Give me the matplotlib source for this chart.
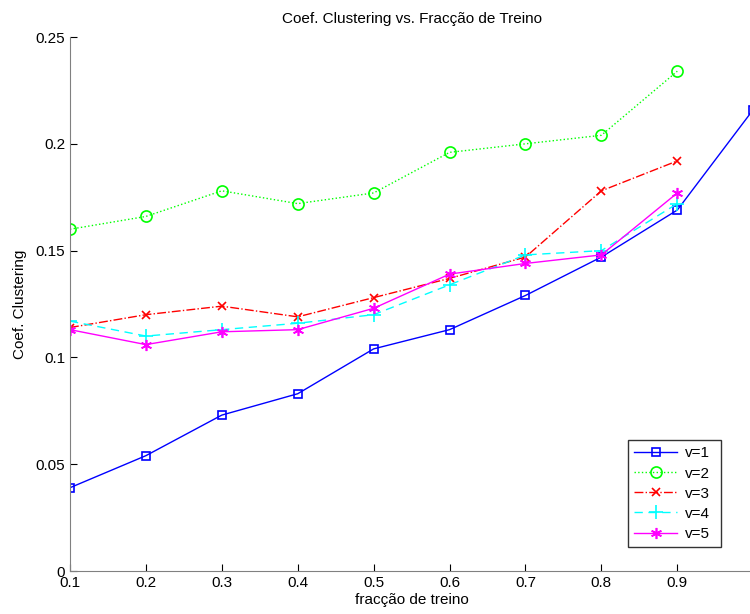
import matplotlib
matplotlib.use("Agg")
import matplotlib.pyplot as plt

plt.rcParams['font.family'] = ['Liberation Sans', 'DejaVu Sans']

# fracção de treino
x = [0.1, 0.2, 0.3, 0.4, 0.5, 0.6, 0.7, 0.8, 0.9, 1.0]
v1 = [0.039, 0.054, 0.073, 0.083, 0.104, 0.113, 0.129, 0.147, 0.169, 0.216]
v2 = [0.160, 0.166, 0.178, 0.172, 0.177, 0.196, 0.200, 0.204, 0.234]
v3 = [0.114, 0.120, 0.124, 0.119, 0.128, 0.137, 0.147, 0.178, 0.192]
v4 = [0.117, 0.110, 0.113, 0.116, 0.120, 0.134, 0.148, 0.150, 0.172]
v5 = [0.113, 0.106, 0.112, 0.113, 0.123, 0.139, 0.144, 0.148, 0.177]

fig = plt.figure(figsize=(7.5, 6.14), dpi=100)
ax = fig.add_axes([0.0933, 0.070, 0.911, 0.8697])

ax.plot(x, v1, color='#0000ff', linestyle='-', marker='s', mfc='none', ms=6, mew=1.2, lw=1, label='v=1')
ax.plot(x[:9], v2, color='#00ff00', linestyle=':', marker='o', mfc='none', ms=8, mew=1.2, lw=1, label='v=2')
ax.plot(x[:9], v3, color='#ff0000', linestyle='-.', marker='x', ms=6, mew=1.2, lw=1, label='v=3')
ax.plot(x[:9], v4, color='#00ffff', linestyle='--', marker='+', ms=10, mew=1.2, lw=1, dashes=(6, 4), label='v=4')
ax.plot(x[:9], v5, color='#ff00ff', linestyle='-', marker=(6, 2, 0), ms=8, mew=1.2, lw=1, label='v=5')

ax.set_xlim(0.1, 1.0)
ax.set_ylim(0, 0.25)
ax.set_xticks([0.1, 0.2, 0.3, 0.4, 0.5, 0.6, 0.7, 0.8, 0.9, 1.0])
ax.set_xticklabels(['0.1', '0.2', '0.3', '0.4', '0.5', '0.6', '0.7', '0.8', '0.9', '1'])
ax.set_yticks([0, 0.05, 0.1, 0.15, 0.2, 0.25])
ax.set_yticklabels(['0', '0.05', '0.1', '0.15', '0.2', '0.25'])
ax.tick_params(direction='in', length=5, labelsize=11, color='black')
ax.spines['top'].set_visible(False)
ax.spines['right'].set_visible(False)
ax.spines['left'].set_color('#808080')
ax.spines['bottom'].set_color('#808080')

ax.set_title('Coef. Clustering vs. Fracção de Treino', fontsize=11, pad=10)
ax.set_xlabel('fracção de treino', fontsize=11, labelpad=2)
ax.set_ylabel('Coef. Clustering', fontsize=11, labelpad=6)

leg = ax.legend(loc='lower left', bbox_to_anchor=(0.817, 0.045, 0.136, 0.21), mode='expand',
                fontsize=11, frameon=True, fancybox=False, borderaxespad=0, handlelength=2.8,
                handletextpad=0.5, labelspacing=0.4)
leg.get_frame().set_edgecolor('black')
leg.get_frame().set_linewidth(1)

fig.savefig('out.png', dpi=100)
